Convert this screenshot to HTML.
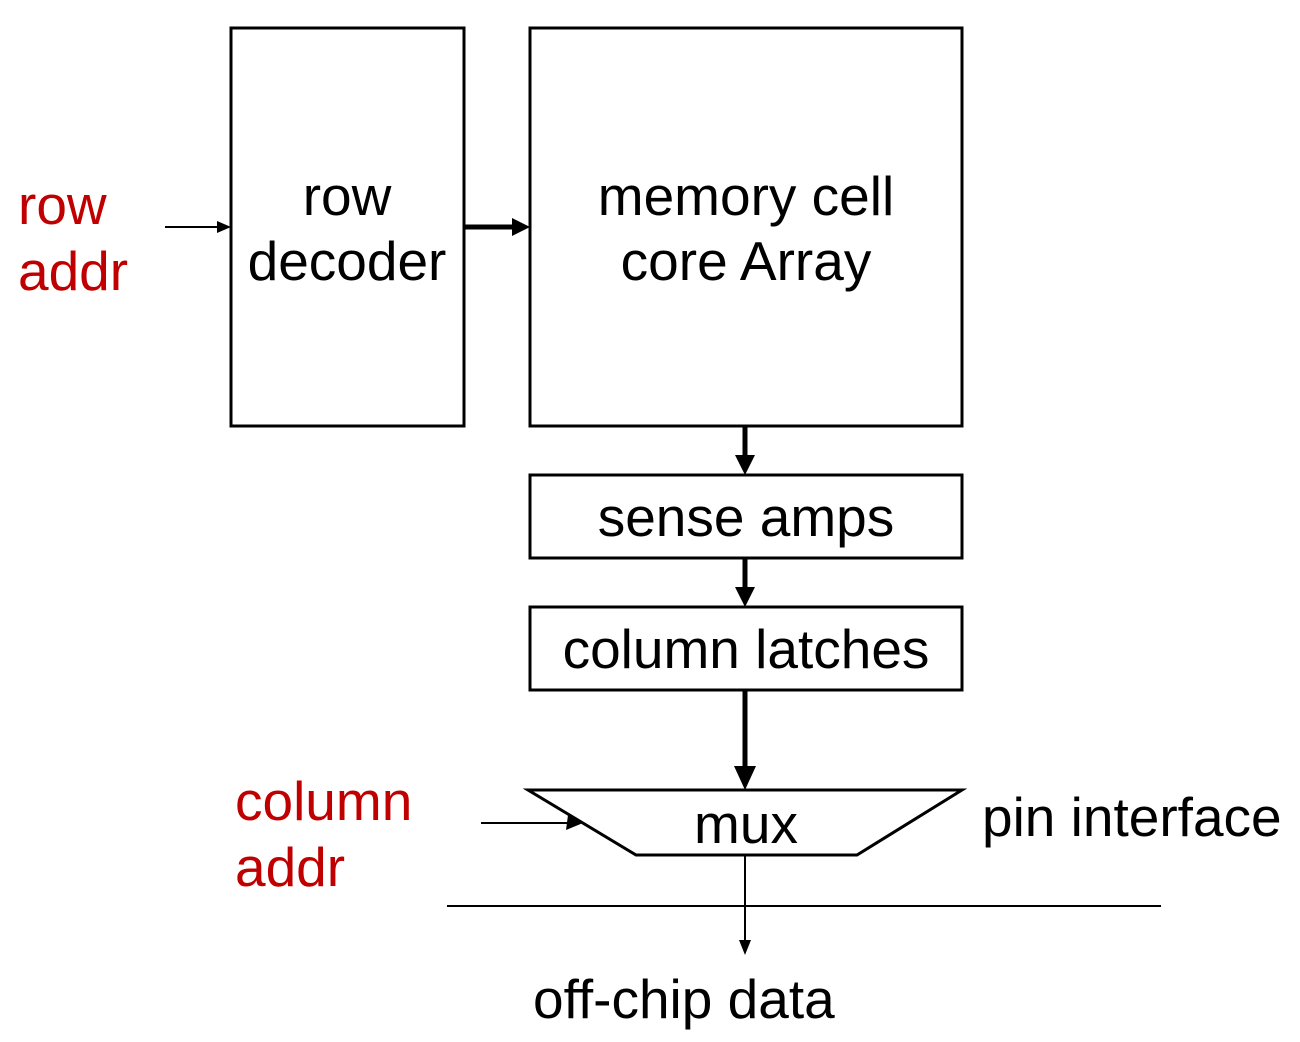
<!DOCTYPE html>
<html><head><meta charset="utf-8"><style>
html,body{margin:0;padding:0;background:#fff;}
svg{display:block;}
text{font-family:"Liberation Sans",Arial,sans-serif;font-size:55px;}
</style></head><body>
<svg width="1300" height="1042" viewBox="0 0 1300 1042" xmlns="http://www.w3.org/2000/svg">
<g fill="none" stroke="#000" stroke-width="3">
<rect x="231" y="28" width="233" height="398"/>
<rect x="530" y="28" width="432" height="398"/>
<rect x="530" y="475" width="432" height="83"/>
<rect x="530" y="607" width="432" height="83"/>
<polygon points="528,790 962,790 857,855 636,855"/>
</g>
<g stroke="#000" stroke-width="2">
<line x1="165" y1="227" x2="220" y2="227"/>
<line x1="481" y1="823" x2="570" y2="823"/>
<line x1="745" y1="855" x2="745" y2="944"/>
<line x1="447" y1="906" x2="1161" y2="906"/>
</g>
<polygon points="231,227 217,221 217,233" fill="#000"/>
<polygon points="583,823 568,815 566,830" fill="#000"/>
<polygon points="745,955 739,940 751,940" fill="#000"/>
<g stroke="#000" stroke-width="5">
<line x1="464" y1="227" x2="516" y2="227"/>
<line x1="745" y1="426" x2="745" y2="460"/>
<line x1="745" y1="558" x2="745" y2="592"/>
<line x1="745" y1="690" x2="745" y2="772"/>
</g>
<polygon points="530,227 512,218 512,236" fill="#000"/>
<polygon points="745,475 735,455 755,455" fill="#000"/>
<polygon points="745,607 735,587 755,587" fill="#000"/>
<polygon points="745,790 734,766 756,766" fill="#000"/>
<g fill="#c00000">
<text x="18" y="224">row</text>
<text x="18" y="290">addr</text>
<text x="235" y="820">column</text>
<text x="235" y="886">addr</text>
</g>
<g fill="#000" text-anchor="middle">
<text x="347" y="215">row</text>
<text x="347" y="280">decoder</text>
<text x="746" y="215">memory cell</text>
<text x="746" y="280">core Array</text>
<text x="746" y="536">sense amps</text>
<text x="746" y="668">column latches</text>
<text x="746" y="843">mux</text>
</g>
<text x="982" y="836">pin interface</text>
<text x="533" y="1018">off-chip data</text>
</svg>
</body></html>
